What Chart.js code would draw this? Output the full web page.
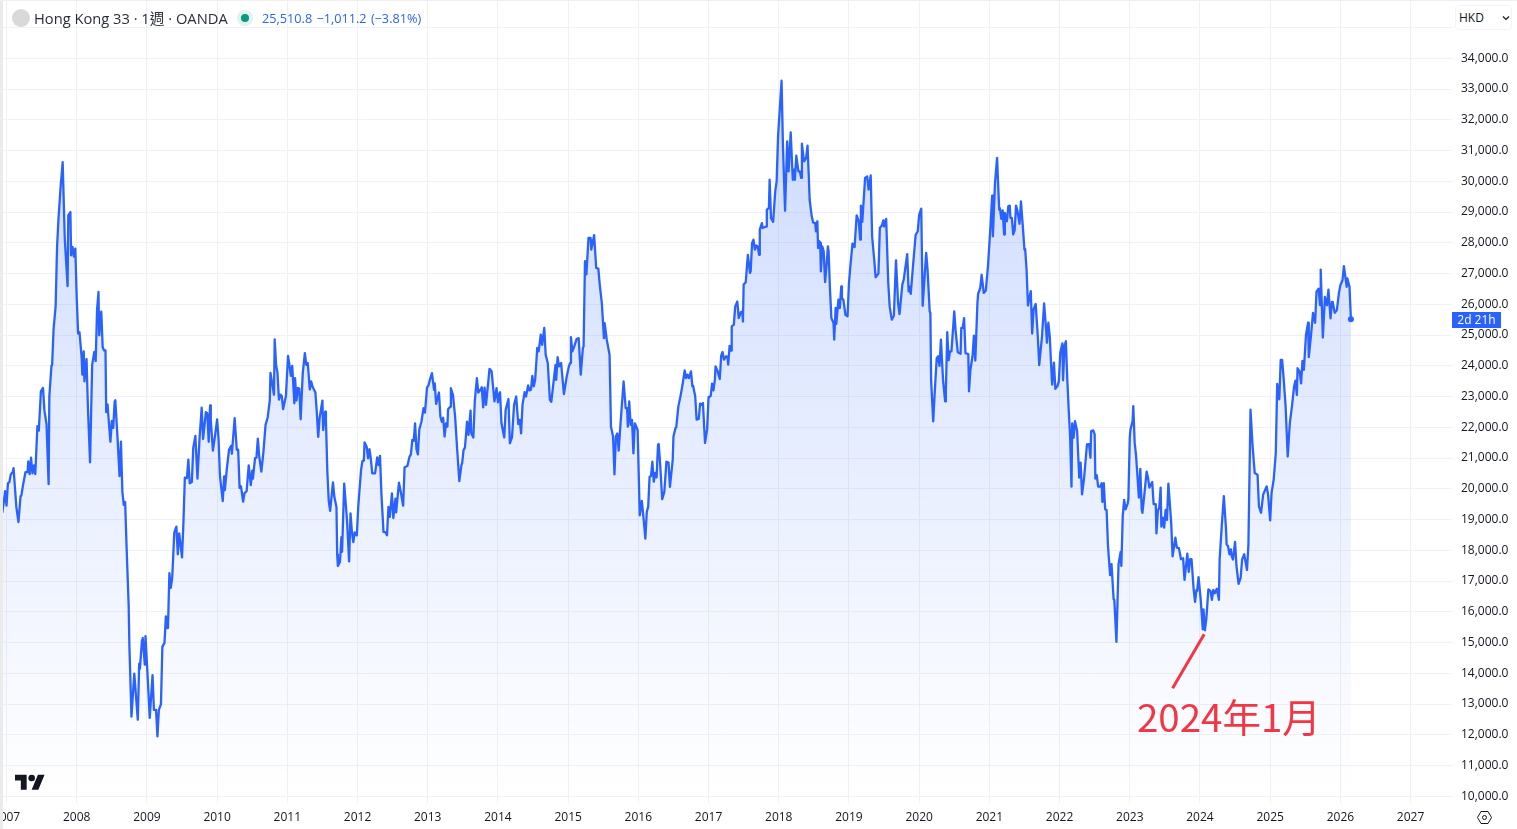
<!DOCTYPE html>
<html>
<head>
<meta charset="utf-8">
<title>Hong Kong 33</title>
<script src="https://cdn.jsdelivr.net/npm/chart.js@4/dist/chart.umd.min.js"></script>
<style>
  html, body { margin: 0; padding: 0; width: 1517px; height: 829px; overflow: hidden; background: #fff; }
  body { position: relative; font-family: "Open Sans", "Noto Sans CJK TC", sans-serif; color: #131722; }
  #chartCanvas { position: absolute; left: -20px; top: -30px; }
  .abs { position: absolute; white-space: nowrap; }
  #leftStrip { left: 0; top: 0; width: 3px; height: 829px; background: #ebebeb; }
  #topStrip { left: 0; top: 0; width: 1517px; height: 1px; background: #f0f0f0; }
  #symbolDot { left: 12px; top: 9px; width: 18px; height: 18px; border-radius: 50%; background: #d9d9d9; }
  #title { left: 34px; top: 8px; font-size: 14.7px; line-height: 20px; color: #2a2e39; }
  #statusOuter { left: 237px; top: 10px; width: 16px; height: 16px; border-radius: 50%; background: #dff3ef; }
  #statusInner { left: 241px; top: 14px; width: 8px; height: 8px; border-radius: 50%; background: #089981; }
  #quote { left: 262px; top: 10px; font-size: 12.7px; line-height: 17px; color: #2962ff; word-spacing: 1px; }
  #currency { left: 1455px; top: 5px; width: 57px; height: 25px; box-sizing: border-box; border: 1px solid #f0f3fa; border-radius: 4px; font-size: 12px; line-height: 23px; padding-left: 3px; background: #fff; }
  #chevron { left: 1502px; top: 15px; }
  #countdown { left: 1452px; top: 312px; width: 49px; height: 16px; background: #2962ff; color: #fff; font-size: 12px; line-height: 16px; text-align: center; }
  #note { left: 1137px; top: 688px; font-size: 38.5px; line-height: 54px; color: #f23645; font-family: "Noto Sans CJK TC", sans-serif; }
  #logo { left: 15px; top: 771px; }
  #gear { left: 1476px; top: 809px; }
</style>
</head>
<body>
<canvas id="chartCanvas" width="1537" height="859"></canvas>
<div class="abs" id="leftStrip"></div>
<div class="abs" id="topStrip"></div>
<div class="abs" id="symbolDot"></div>
<div class="abs" id="title">Hong Kong 33 · 1週 · OANDA</div>
<div class="abs" id="statusOuter"></div>
<div class="abs" id="statusInner"></div>
<div class="abs" id="quote">25,510.8 −1,011.2 (−3.81%)</div>
<div class="abs" id="currency">HKD</div>
<svg class="abs" id="chevron" width="8" height="6" viewBox="0 0 8 6"><path d="M1 1.5l3 3 3-3" fill="none" stroke="#131722" stroke-width="1.2"/></svg>
<div class="abs" id="countdown">2d 21h</div>
<div class="abs" id="note">2024年1月</div>
<svg class="abs" id="logo" width="30" height="24" viewBox="0 0 36 28"><path d="M14 22H7V11H0V4h14v18zM28 22h-8l7.5-18h8L28 22z" fill="#131722"/><circle cx="20" cy="8" r="4" fill="#131722"/></svg>
<svg class="abs" id="gear" width="17" height="17" viewBox="0 0 17 17"><path d="M5 2.5h7l3.5 6-3.5 6H5l-3.5-6z" fill="none" stroke="#131722" stroke-width="1"/><circle cx="8.5" cy="8.5" r="2" fill="none" stroke="#131722" stroke-width="1"/></svg>
<script>
// weekly closes, one pair of arrays per stretch of years
const dates2007 = [2006.94,2006.96,2006.98,2007.00,2007.02,2007.04,2007.06,2007.09,2007.10,2007.12,2007.14,2007.17,2007.20,2007.21,2007.24,2007.27,2007.30,2007.31,2007.33,2007.35,2007.37,2007.39,2007.41,2007.44,2007.46,2007.49,2007.52,2007.54,2007.57,2007.60,2007.61,2007.64,2007.65,2007.67,2007.70,2007.72,2007.74,2007.77,2007.80,2007.83,2007.87,2007.88,2007.91,2007.92,2007.94,2007.96,2007.98,2008.00,2008.02,2008.04,2008.07,2008.08,2008.10,2008.11,2008.14,2008.16,2008.19,2008.22,2008.25,2008.27,2008.29,2008.31,2008.32,2008.35,2008.37,2008.39,2008.41,2008.42,2008.44,2008.46,2008.48,2008.50,2008.52,2008.54,2008.55,2008.58,2008.61,2008.63,2008.65,2008.67,2008.69,2008.71,2008.74,2008.75,2008.78,2008.82,2008.87,2008.89,2008.90,2008.93,2008.94,2008.97,2008.98];
const closes2007 = [19220,19540,19920,19450,20180,20210,20460,20560,20670,20050,19410,18920,19760,19770,20180,20540,20540,20890,20480,21010,20500,20760,20480,22040,21890,23170,23280,22550,22100,20150,23000,24000,24030,25180,25950,27870,28770,29800,30620,28130,26590,28900,29000,27590,27870,27550,27810,26210,25050,25090,24280,23710,24470,23490,24220,22620,20860,24030,24450,24150,25820,26400,24990,25760,24600,24500,24500,22490,22740,22100,21530,22210,21980,22830,22880,21720,20410,21530,19920,19480,19570,18130,16210,14920,12590,13990,12490,14310,14150,15080,15150,14280,15210];

const dates2009 = [2009.01,2009.04,2009.08,2009.10,2009.13,2009.15,2009.17,2009.20,2009.22,2009.25,2009.27,2009.29,2009.30,2009.32,2009.34,2009.36,2009.39,2009.42,2009.44,2009.46,2009.50,2009.52,2009.54,2009.57,2009.59,2009.61,2009.64,2009.66,2009.69,2009.72,2009.75,2009.78,2009.80,2009.84,2009.86,2009.88,2009.90,2009.91,2009.94,2009.97,2010.00,2010.02,2010.04,2010.08,2010.10,2010.11,2010.14,2010.17,2010.20,2010.21,2010.25,2010.28,2010.30,2010.32,2010.34,2010.37,2010.39,2010.42,2010.45,2010.48,2010.50,2010.51,2010.54,2010.56,2010.58,2010.60,2010.63,2010.66,2010.69,2010.72,2010.75,2010.76,2010.81,2010.82,2010.84,2010.86,2010.88,2010.90,2010.92,2010.94,2010.98];
const closes2009 = [13900,12550,13940,12810,12810,11950,12810,13000,14860,14990,15850,15470,15500,17260,16780,17100,18580,18770,17870,18550,17770,18900,20360,20350,20950,20180,20220,21330,21720,20330,21650,22640,21620,22490,22460,21530,22710,22230,21240,21720,22260,21650,20440,19600,20400,19960,20690,21270,21400,21140,22300,21270,21270,20030,20080,19580,19860,19920,20760,20120,20590,20330,21000,21010,21630,21050,20560,21210,22080,22320,22870,23770,23060,24860,24030,23770,22900,23060,23020,22590,23020];

const dates2011 = [2011.01,2011.03,2011.05,2011.07,2011.10,2011.11,2011.13,2011.15,2011.17,2011.19,2011.22,2011.25,2011.27,2011.29,2011.30,2011.32,2011.34,2011.36,2011.40,2011.42,2011.44,2011.46,2011.50,2011.51,2011.54,2011.55,2011.57,2011.59,2011.61,2011.65,2011.67,2011.70,2011.71,2011.72,2011.75,2011.77,2011.78,2011.81,2011.83,2011.85,2011.88,2011.90,2011.92,2011.94,2011.96,2011.99,2012.01,2012.05,2012.07,2012.09,2012.10,2012.13,2012.15,2012.17,2012.19,2012.21,2012.25,2012.28,2012.30,2012.32,2012.34,2012.37,2012.40,2012.42,2012.44,2012.46,2012.49,2012.51,2012.54,2012.55,2012.59,2012.62,2012.65,2012.67,2012.71,2012.74,2012.76,2012.78,2012.80,2012.82,2012.84,2012.86,2012.88,2012.91,2012.94,2012.96,2012.99];
const closes2011 = [24320,24030,23670,24000,22780,23600,22870,23280,23260,22260,23770,24410,24030,24090,23830,23230,23490,23320,23130,22490,21690,22300,22870,21910,22510,22230,20560,19600,19280,20210,19730,19410,17870,17490,17620,18430,17950,20170,19580,18980,17640,19200,18600,18270,18580,18490,19410,20610,20910,20910,21510,21370,20990,21290,20960,20500,20500,21020,20770,21070,19850,18600,18580,18490,19410,19090,19850,19050,19680,19230,20200,19850,19450,20700,20740,21040,21120,21590,21560,22130,21280,21120,21930,22180,22620,22480,23290];

const dates2013 = [2013.01,2013.03,2013.06,2013.09,2013.10,2013.12,2013.16,2013.18,2013.20,2013.22,2013.24,2013.26,2013.28,2013.29,2013.32,2013.33,2013.36,2013.39,2013.42,2013.45,2013.48,2013.49,2013.51,2013.53,2013.56,2013.58,2013.61,2013.62,2013.65,2013.67,2013.70,2013.72,2013.75,2013.77,2013.79,2013.81,2013.83,2013.86,2013.88,2013.91,2013.93,2013.95,2013.98,2014.00,2014.01,2014.03,2014.05,2014.09,2014.11,2014.15,2014.17,2014.20,2014.23,2014.26,2014.29,2014.31,2014.33,2014.35,2014.38,2014.40,2014.43,2014.45,2014.47,2014.49,2014.51,2014.53,2014.56,2014.58,2014.61,2014.63,2014.66,2014.68,2014.71,2014.74,2014.76,2014.79,2014.82,2014.83,2014.85,2014.87,2014.90,2014.94,2014.95,2014.98];
const closes2013 = [23360,23540,23760,23220,23430,22760,23130,22350,22180,22310,21700,22130,22020,22590,22670,23270,23050,22350,21260,20250,20770,20830,21260,21340,22180,21750,22540,21800,21670,22840,23600,23130,23220,23300,22650,23290,22730,23430,23900,23820,23330,22840,23270,22810,23050,23140,22130,21670,22570,22920,21480,21670,22730,23000,22100,22240,21800,22730,23140,23000,23360,23200,23220,23670,23330,23540,24580,24470,25010,24680,25230,24360,24090,22890,22830,23430,24030,23540,24280,23980,24090,23080,23220,23650];

const dates2015 = [2015.01,2015.03,2015.04,2015.06,2015.09,2015.12,2015.15,2015.18,2015.21,2015.22,2015.24,2015.26,2015.29,2015.32,2015.33,2015.37,2015.40,2015.43,2015.45,2015.48,2015.51,2015.52,2015.55,2015.59,2015.61,2015.64,2015.66,2015.68,2015.70,2015.72,2015.75,2015.79,2015.82,2015.84,2015.85,2015.87,2015.89,2015.91,2015.93,2015.95,2015.99,2016.02,2016.05,2016.07,2016.10,2016.12,2016.14,2016.16,2016.18,2016.20,2016.22,2016.24,2016.26,2016.28,2016.29,2016.31,2016.34,2016.37,2016.40,2016.43,2016.45,2016.49,2016.50,2016.53,2016.54,2016.57,2016.60,2016.63,2016.66,2016.68,2016.70,2016.72,2016.75,2016.77,2016.78,2016.81,2016.83,2016.86,2016.88,2016.90,2016.92,2016.95,2016.98];
const closes2015 = [23980,24090,24930,24470,24650,24870,24900,23710,24580,24630,27400,26970,28160,28160,27780,28250,27180,27160,26640,26040,24900,25390,24850,24360,22020,21700,20470,21700,21800,21240,22240,23490,22620,22620,22020,22840,22080,22240,21150,22130,21910,19140,19610,19140,18380,19250,19410,20390,20410,20880,20230,20520,20370,21420,21460,20830,19660,19900,20880,20850,20060,20950,21700,21980,22000,22680,23010,23390,23850,23600,23710,23600,23820,23330,23350,23010,22250,22270,22770,22730,22790,21490,21940];

const dates2017 = [2017.00,2017.03,2017.05,2017.07,2017.09,2017.10,2017.13,2017.16,2017.18,2017.20,2017.22,2017.25,2017.27,2017.28,2017.30,2017.32,2017.33,2017.36,2017.38,2017.41,2017.43,2017.46,2017.48,2017.49,2017.50,2017.53,2017.56,2017.59,2017.60,2017.62,2017.64,2017.66,2017.68,2017.70,2017.72,2017.73,2017.76,2017.77,2017.82,2017.83,2017.86,2017.87,2017.89,2017.92,2017.95,2017.97,2017.99,2018.02,2018.04,2018.06,2018.09,2018.12,2018.14,2018.17,2018.20,2018.22,2018.23,2018.25,2018.28,2018.30,2018.32,2018.33,2018.36,2018.39,2018.41,2018.43,2018.44,2018.47,2018.49,2018.52,2018.53,2018.55,2018.56,2018.58,2018.59,2018.60,2018.62,2018.64,2018.66,2018.68,2018.70,2018.71,2018.73,2018.75,2018.78,2018.79,2018.81,2018.82,2018.85,2018.87,2018.89,2018.90,2018.92,2018.95,2018.98];
const closes2017 = [22980,23010,23420,23200,23550,23980,23820,23570,24330,24450,24200,24310,24280,24040,24650,24490,25280,25340,25930,26090,25550,25740,25770,25440,26640,26720,27610,27020,27070,27990,28100,27780,27910,27880,27610,28430,28640,28480,28530,29080,29130,30050,28800,28680,29670,30000,31460,32540,33270,31140,29040,31300,30320,31590,30050,30380,30050,30830,30320,30320,30110,31220,30650,30760,31160,30050,29400,28860,28660,28640,28370,28700,27830,28050,28000,27070,27880,27720,26720,27230,27880,27720,26470,25550,25390,24850,25880,25360,26150,25880,26580,26200,26150,25660,25610];

const dates2019 = [2019.00,2019.02,2019.05,2019.08,2019.11,2019.14,2019.16,2019.17,2019.19,2019.23,2019.26,2019.28,2019.31,2019.33,2019.36,2019.38,2019.42,2019.44,2019.47,2019.49,2019.50,2019.53,2019.56,2019.58,2019.61,2019.64,2019.67,2019.70,2019.72,2019.74,2019.76,2019.78,2019.83,2019.85,2019.86,2019.88,2019.92,2019.95,2019.98,2020.00,2020.03,2020.05,2020.10,2020.12,2020.15,2020.16,2020.17,2020.20,2020.22,2020.25,2020.27,2020.29,2020.31,2020.34,2020.37,2020.38,2020.40,2020.42,2020.44,2020.46,2020.50,2020.52,2020.53,2020.55,2020.59,2020.60,2020.62,2020.64,2020.66,2020.70,2020.71,2020.73,2020.76,2020.78,2020.80,2020.83,2020.84,2020.87,2020.89,2020.92,2020.95,2020.98];
const closes2019 = [26690,27230,27970,27860,28890,28700,28100,29210,28680,30110,30160,29730,30190,28210,27450,26880,27000,28480,28570,28730,28530,28780,26690,25930,25500,25630,27430,26040,25680,26150,26640,26800,27630,26420,26580,26340,27450,28260,28370,28910,29110,25950,27670,27120,25770,25720,23550,22190,23060,24250,24310,24000,24850,23550,22840,23110,25090,24180,24470,24470,25770,25120,24900,24440,24390,25230,25230,25550,24410,24380,23170,23870,24310,24980,24170,26040,26340,26530,26960,26370,26450,27230];

const dates2021 = [2021.01,2021.04,2021.05,2021.08,2021.11,2021.14,2021.15,2021.17,2021.19,2021.21,2021.22,2021.25,2021.27,2021.29,2021.30,2021.32,2021.34,2021.36,2021.38,2021.40,2021.43,2021.45,2021.48,2021.50,2021.51,2021.53,2021.55,2021.59,2021.61,2021.63,2021.66,2021.69,2021.71,2021.75,2021.78,2021.81,2021.82,2021.84,2021.86,2021.89,2021.895,2021.92,2021.94,2021.97,2021.99,2022.01,2022.04,2022.05,2022.07,2022.09,2022.11,2022.13,2022.15,2022.17,2022.18,2022.20,2022.22,2022.25,2022.28,2022.30,2022.32,2022.35,2022.39,2022.42,2022.44,2022.45,2022.48,2022.50,2022.51,2022.53,2022.55,2022.58,2022.60,2022.61,2022.63,2022.65,2022.67,2022.69,2022.72,2022.74,2022.77,2022.78,2022.81,2022.84,2022.87,2022.88,2022.90,2022.92,2022.94,2022.97,2022.98];
const closes2021 = [28320,29530,28210,29940,30760,29080,29130,28780,29050,28270,28970,28700,29190,29210,28810,28810,28270,28400,29210,29030,28620,29350,28430,27780,27800,27130,25960,26430,25050,25830,26010,24960,24020,24960,26030,25130,24750,25400,24960,23560,23390,24100,23250,23340,23500,24420,24730,23530,24640,24800,23560,22580,21720,20070,22130,21660,22200,21880,20360,20850,19820,20360,21440,21450,21010,21880,21900,21770,20330,20440,20070,20070,20180,19570,20180,19330,19310,18140,17190,17550,16410,16390,15020,17550,17950,17490,19120,19640,19330,19520,19660];

const dates2023 = [2023.00,2023.01,2023.04,2023.05,2023.07,2023.09,2023.13,2023.15,2023.17,2023.18,2023.21,2023.24,2023.26,2023.28,2023.32,2023.34,2023.37,2023.38,2023.40,2023.42,2023.44,2023.45,2023.47,2023.49,2023.51,2023.53,2023.55,2023.58,2023.59,2023.61,2023.65,2023.67,2023.70,2023.73,2023.76,2023.78,2023.82,2023.84,2023.86,2023.88,2023.91,2023.93,2023.95,2023.96,2023.98,2024.01,2024.04,2024.05,2024.07,2024.09,2024.12,2024.15,2024.17,2024.19,2024.21,2024.24,2024.27,2024.28,2024.31,2024.34,2024.37,2024.38,2024.40,2024.42,2024.44,2024.45,2024.47,2024.50,2024.52,2024.55,2024.58,2024.60,2024.63,2024.67,2024.69,2024.72,2024.75,2024.78,2024.82,2024.84,2024.87,2024.90,2024.92,2024.95,2024.97];
const closes2023 = [21660,21930,22200,22690,21500,21070,19710,20650,19330,19220,19870,20560,20360,20040,20220,19500,19500,18550,19280,19390,20040,18770,19060,18740,19310,18990,20170,19220,18900,17800,18410,18090,18070,17710,17740,17040,17890,17300,17710,17710,16730,16320,16710,16680,17130,16410,15430,16080,15400,15760,16730,16680,16390,16710,16600,16750,16390,17700,18780,19760,18730,18190,18140,17870,18030,17830,17700,18270,17490,16910,17110,17700,17870,17360,18190,22570,21380,20510,20460,19430,19220,19810,19920,20080,19810];

const dates2025 = [2025.00,2025.02,2025.05,2025.08,2025.10,2025.13,2025.15,2025.17,2025.19,2025.22,2025.25,2025.28,2025.31,2025.34,2025.36,2025.38,2025.39,2025.42,2025.44,2025.46,2025.48,2025.51,2025.54,2025.55,2025.58,2025.61,2025.64,2025.66,2025.69,2025.71,2025.72,2025.75,2025.78,2025.81,2025.83,2025.86,2025.88,2025.89,2025.92,2025.95,2025.98,2026.00,2026.03,2026.05,2026.09,2026.10,2026.13,2026.15];
const closes2025 = [18970,19870,20300,21160,23410,22910,24190,24190,23650,22680,21050,22140,22680,23320,23520,23050,23920,23810,23430,24160,23870,25000,25400,24280,24950,25720,25400,26410,26510,25970,27130,24920,26240,25970,26480,25540,26080,26080,25720,25810,26380,26620,26780,27240,26570,26840,26570,25510.8];

// the red pointer to the January 2024 low
const noteDates = [2024.06, 2023.61];
const noteValues = [15270, 13510];

const xTickValues = [2007,2008,2009,2010,2011,2012,2013,2014,2015,2016,2017,2018,2019,2020,2021,2022,2023,2024,2025,2026,2027];
const yTickValues = [10000,11000,12000,13000,14000,15000,16000,17000,18000,19000,20000,21000,22000,23000,24000,25000,26000,27000,28000,29000,30000,31000,32000,33000,34000,35000];

const allDates = [].concat(dates2007, dates2009, dates2011, dates2013, dates2015, dates2017, dates2019, dates2021, dates2023, dates2025);
const allCloses = [].concat(closes2007, closes2009, closes2011, closes2013, closes2015, closes2017, closes2019, closes2021, closes2023, closes2025);

const ctx = document.getElementById("chartCanvas").getContext("2d");

// canvas sits 30px above the page, so the gradient runs in canvas coordinates
function areaGradient(context) {
  const area = context.chart.chartArea;
  if (!area) return "rgba(41,98,255,0.2)";
  const g = context.chart.ctx.createLinearGradient(0, 100, 0, 820);
  g.addColorStop(0, "rgba(41,98,255,0.24)");
  g.addColorStop(1, "rgba(41,98,255,0)");
  return g;
}

new Chart(ctx, {
  type: "line",
  data: {
    datasets: [
      {
        data: noteDates.map((d, i) => ({ x: d, y: noteValues[i] })),
        borderColor: "#f23645",
        borderWidth: 3,
        pointRadius: 0,
        fill: false
      },
      {
        data: allDates.map((d, i) => ({ x: d, y: allCloses[i] })),
        borderColor: "#2962ff",
        borderWidth: 2.3,
        borderJoinStyle: "round",
        tension: 0,
        fill: "start",
        backgroundColor: areaGradient,
        pointBackgroundColor: "#2962ff",
        pointBorderWidth: 0,
        pointRadius: c => c.dataIndex === allDates.length - 1 ? 3 : 0
      }
    ]
  },
  options: {
    responsive: false,
    animation: false,
    devicePixelRatio: 1,
    events: [],
    layout: { padding: { left: 23, top: 31, right: 0, bottom: 0 } },
    plugins: { legend: { display: false }, tooltip: { enabled: false } },
    scales: {
      x: {
        type: "linear",
        min: 2006.95,
        max: 2027.59,
        grid: { color: "#eff1f6", drawTicks: false },
        border: { display: false },
        afterBuildTicks: s => { s.ticks = xTickValues.map(v => ({ value: v })); },
        afterFit: s => { s.height = 26; },
        ticks: {
          autoSkip: false,
          maxRotation: 0,
          padding: 7,
          color: "#131722",
          font: { family: "Open Sans", size: 12 },
          callback: v => String(v)
        }
      },
      y: {
        position: "right",
        min: 9782,
        max: 35863,
        grid: { color: "#f0f2f7", drawTicks: false },
        border: { display: false },
        afterBuildTicks: s => { s.ticks = yTickValues.map(v => ({ value: v })); },
        afterFit: s => { s.width = 65; },
        ticks: {
          autoSkip: false,
          padding: 9,
          color: "#131722",
          font: { family: "Open Sans", size: 12 },
          callback: v => v > 34000 ? "" : v.toLocaleString("en-US", { minimumFractionDigits: 1 })
        }
      }
    }
  }
});
</script>
</body>
</html>
